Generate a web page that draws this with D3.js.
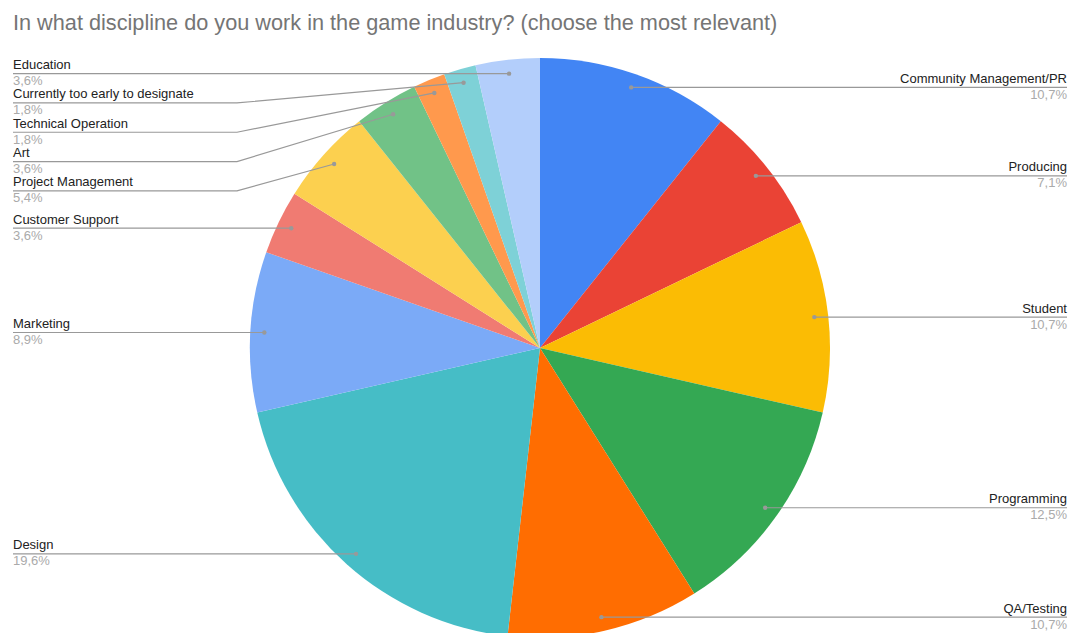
<!DOCTYPE html>
<html>
<head>
<meta charset="utf-8">
<script src="https://cdn.jsdelivr.net/npm/d3@7"></script>
<style>
  html, body { margin: 0; padding: 0; background: #fff; }
  svg { display: block; font-family: "Liberation Sans", Arial, sans-serif; }
</style>
</head>
<body>
<svg id="chart" width="1070" height="633"></svg>
<script>
// Survey answers: number of respondents per discipline (56 in total)
const categories = [
  "Community Management/PR", "Producing", "Student", "Programming", "QA/Testing",
  "Design", "Marketing", "Customer Support", "Project Management", "Art",
  "Technical Operation", "Currently too early to designate", "Education"
];
const counts = [6, 4, 6, 7, 6, 11, 5, 2, 3, 2, 1, 1, 2];
const colors = [
  "#4285f4", "#ea4335", "#fbbc04", "#34a853", "#ff6d01",
  "#46bdc6", "#7baaf7", "#f07b72", "#fcd04f", "#71c287",
  "#ff994d", "#7ed1d7", "#b3cefb"
];
const title = "In what discipline do you work in the game industry? (choose the most relevant)";

const W = 1070, H = 633;
const cx = 540, cy = 348, R = 290;
const dotR = R * 0.952;
const leftX = 13, rightX = 1067, elbowX = 237;
const minGap = 29.3;

const svg = d3.select("#chart");

svg.append("text")
  .attr("x", 13).attr("y", 30)
  .attr("font-size", 21.7)
  .attr("fill", "#757575")
  .text(title);

const total = d3.sum(counts);
const data = categories.map((c, i) => ({ name: c, value: counts[i], color: colors[i] }));
const arcs = d3.pie().value(d => d.value).sort(null)(data);

const g = svg.append("g").attr("transform", `translate(${cx},${cy})`);
const arc = d3.arc().innerRadius(0).outerRadius(R);
g.selectAll("path.slice").data(arcs).join("path")
  .attr("class", "slice")
  .attr("d", arc)
  .attr("fill", d => d.data.color);

// Anchor point of each label inside its slice
const fmt = v => (v * 100).toFixed(1).replace(".", ",") + "%";
const labels = arcs.map(a => {
  const mid = (a.startAngle + a.endAngle) / 2;
  const px = cx + dotR * Math.sin(mid);
  const py = cy - dotR * Math.cos(mid);
  return { name: a.data.name, pct: fmt(a.data.value / total), px, py, y: py, side: Math.sin(mid) >= 0 ? "right" : "left" };
});

// Stack labels on each side so they keep a minimum vertical gap
["left", "right"].forEach(side => {
  const list = labels.filter(l => l.side === side).sort((a, b) => a.py - b.py);
  for (let i = 1; i < list.length; i++) {
    if (list[i].y < list[i - 1].y + minGap) list[i].y = list[i - 1].y + minGap;
  }
});

const lg = svg.append("g");
labels.forEach(l => {
  let pts;
  if (l.side === "left") {
    pts = Math.abs(l.y - l.py) < 1.5
      ? [[leftX, l.y], [l.px, l.py]]
      : [[leftX, l.y], [elbowX, l.y], [l.px, l.py]];
  } else {
    pts = Math.abs(l.y - l.py) < 1.5
      ? [[l.px, l.py], [rightX, l.y]]
      : [[l.px, l.py], [l.px + 30, l.y], [rightX, l.y]];
  }
  lg.append("path")
    .attr("d", d3.line()(pts))
    .attr("fill", "none")
    .attr("stroke", "#999")
    .attr("stroke-width", 1.2);
  lg.append("circle")
    .attr("cx", l.px).attr("cy", l.py).attr("r", 2.2)
    .attr("fill", "#999");
  const x = l.side === "left" ? leftX : rightX;
  const anchor = l.side === "left" ? "start" : "end";
  lg.append("text")
    .attr("x", x).attr("y", l.y - 4.5)
    .attr("text-anchor", anchor)
    .attr("font-size", 13)
    .attr("fill", "#222")
    .text(l.name);
  lg.append("text")
    .attr("x", x).attr("y", l.y + 11.5)
    .attr("text-anchor", anchor)
    .attr("font-size", 13)
    .attr("fill", "#aaa")
    .text(l.pct);
});
</script>
</body>
</html>
